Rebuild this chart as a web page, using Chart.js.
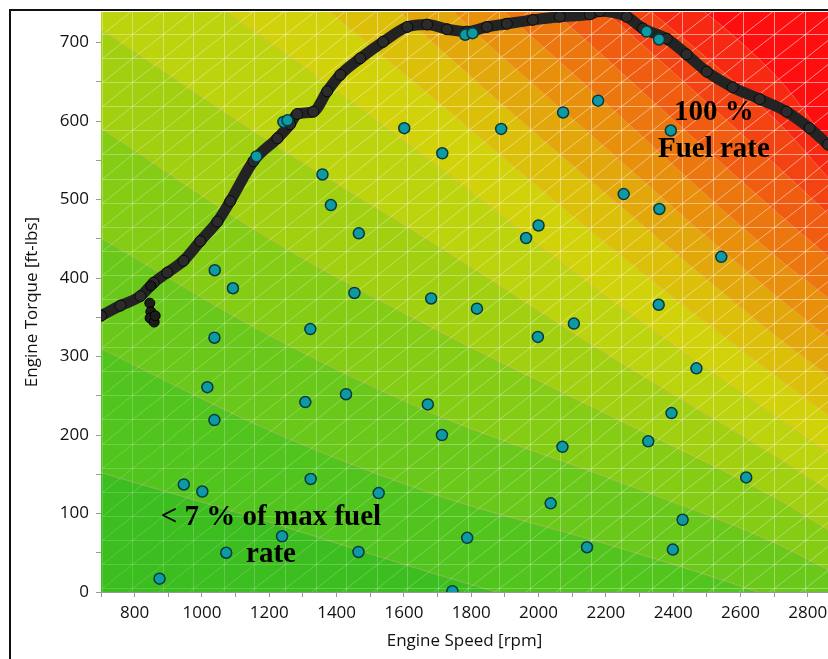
<!DOCTYPE html>
<html>
<head>
<meta charset="utf-8">
<script src="https://cdn.jsdelivr.net/npm/chart.js@4.4.0/dist/chart.umd.min.js"></script>
<style>
  html, body { margin: 0; padding: 0; background: #fff; }
  canvas { display: block; }
</style>
</head>
<body>
<canvas id="fuelMap" width="828" height="659"></canvas>
<script>
// fuel-rate contour boundaries: torque of each level at these speeds
const contourRpm = [700, 1200, 1700, 2210, 2715, 2860];
const level1  = [152, 89, 22, -42, -112, -137];
const level2  = [310, 206, 123, 60, -10, -36];
const level3  = [451, 327, 225, 145, 60, 28];
const level4  = [591, 450, 333, 225, 117, 79];
const level5  = [717, 574, 441, 301, 170, 130];
const level6  = [848, 701, 543, 374, 221, 178];
const level7  = [968, 803, 625, 441, 272, 226];
const level8  = [1083, 898, 695, 504, 323, 276];
const level9  = [1191, 987, 759, 562, 374, 325];
const level10 = [1292, 1070, 822, 619, 424, 375];
const level11 = [1388, 1146, 879, 676, 481, 428];
const level12 = [1476, 1216, 930, 735, 540, 482];
const level13 = [1559, 1280, 981, 785, 597, 528];
const level14 = [1640, 1345, 1035, 835, 653, 572];
const levels = [level1, level2, level3, level4, level5, level6, level7,
  level8, level9, level10, level11, level12, level13, level14];

// band colours, lowest fuel rate first (last one is the 100 % region)
const bandColors = ['#3dbe20', '#51c41d', '#69c819', '#85cc14', '#a1d010',
  '#bcd40d', '#d2d20a', '#dcbf08', '#e2a70a', '#e88f0c', '#ec770e',
  '#f05d10', '#f44312', '#f82912', '#fd0f0f'];

// full-load torque curve
const maxTqRpm = [700, 758, 817, 856, 897, 945, 995, 1046, 1084, 1153, 1224,
  1262, 1283, 1331, 1372, 1411, 1470, 1538, 1610, 1669, 1728, 1788, 1847,
  1906, 1983, 2063, 2152, 2182, 2262, 2310, 2381, 2440, 2500, 2577, 2657,
  2737, 2805, 2860];
const maxTq = [352, 365, 377, 394, 407, 422, 447, 472, 498, 549, 578, 596,
  609, 612, 638, 659, 680, 701, 720, 723, 717, 714, 720, 724, 729, 733, 736,
  740, 733, 718, 705, 685, 663, 643, 628, 612, 591, 570];
// low-speed scatter below the curve
const spurRpm = [848, 845, 848, 846, 858, 861];
const spurTq = [390, 368, 357, 349, 344, 352];

// measured test points
const testRpm = [874, 946, 1001, 1037, 1072, 1238, 1323, 1307, 1465, 1525,
  1671, 1713, 2395, 2326, 2071, 2617, 2036, 2428, 1788, 2144, 2399, 1744,
  1383, 1466, 1038, 1092, 1453, 1322, 1037, 1016, 1428, 1162, 1242, 1254,
  1358, 1601, 1714, 1889, 2073, 2177, 1782, 1804, 2393, 2253, 2359, 2000,
  1963, 2321, 2358, 2543, 2469, 1681, 1817, 1998, 2105, 2357];
const testTq = [17, 137, 128, 219, 50, 71, 144, 242, 51, 126,
  239, 200, 228, 192, 185, 146, 113, 92, 69, 57, 54, 1,
  493, 457, 410, 387, 381, 335, 324, 261, 252, 555, 599, 601,
  532, 591, 559, 590, 611, 626, 710, 712, 588, 507, 488, 467,
  451, 714, 704, 427, 285, 374, 361, 325, 342, 366];

const notes = [
  { rpm: 2521, tq: 602, lines: ['100 %', 'Fuel rate'] },
  { rpm: 1205, tq: 86, lines: ['< 7 % of max fuel', 'rate'] },
];

const pts = (xs, ys) => xs.map((v, i) => ({ x: v, y: ys[i] }));

const bandSets = levels.map((lv, i) => ({
  type: 'line',
  data: pts(contourRpm, lv),
  fill: i === 0 ? 'start' : '-1',
  backgroundColor: bandColors[i],
  borderColor: 'rgba(255,255,255,0.25)',
  borderWidth: 1,
  pointRadius: 0,
  cubicInterpolationMode: 'monotone',
  order: 10,
  clip: 0,
}));

const plotBg = {
  id: 'plotBg',
  beforeDraw(chart) {
    const { ctx, chartArea: a } = chart;
    ctx.save();
    ctx.fillStyle = bandColors[bandColors.length - 1];
    ctx.fillRect(a.left, a.top, a.right - a.left, a.bottom - a.top);
    ctx.restore();
  },
};

// triangulation mesh laid over the colour bands, fainter towards low load
const mesh = {
  id: 'mesh',
  beforeDatasetsDraw(chart) {
    const { ctx, chartArea: a, scales: { x, y } } = chart;
    const r0 = 702, dr = 90.8, t0 = 4.9, dt = 30.7;
    const w = a.right - a.left, h = a.bottom - a.top;
    ctx.save();
    ctx.beginPath();
    ctx.rect(a.left, a.top, w, h);
    ctx.clip();
    ctx.lineWidth = 1;
    for (let r = r0; r < 2900; r += dr) {
      for (let t = t0 - dt; t < 760; t += dt) {
        const x0 = Math.round(x.getPixelForValue(r)) + 0.5;
        const x1 = Math.round(x.getPixelForValue(r + dr)) + 0.5;
        const y0 = Math.round(y.getPixelForValue(t)) + 0.5;
        const y1 = Math.round(y.getPixelForValue(t + dt)) + 0.5;
        const u = ((x0 - a.left) / w + (a.bottom - y0) / h) / 2;
        const alpha = 0.14 + 0.42 * Math.min(1, Math.max(0, u));
        ctx.strokeStyle = `rgba(255,255,255,${alpha.toFixed(3)})`;
        ctx.beginPath();
        ctx.moveTo(x0, y1);
        ctx.lineTo(x0, y0);
        ctx.lineTo(x1, y0);
        ctx.moveTo(x0, y0);
        ctx.lineTo(x1, y1);
        ctx.stroke();
      }
    }
    ctx.restore();
  },
};

const labels = {
  id: 'labels',
  afterDatasetsDraw(chart) {
    const { ctx, scales: { x, y } } = chart;
    ctx.save();
    ctx.font = 'bold 29px "Liberation Serif", "Times New Roman", serif';
    ctx.fillStyle = '#000';
    ctx.textAlign = 'center';
    ctx.textBaseline = 'alphabetic';
    notes.forEach(n => {
      const cx = x.getPixelForValue(n.rpm);
      const by = y.getPixelForValue(n.tq);
      n.lines.forEach((s, i) => ctx.fillText(s, cx, by + i * 37));
    });
    ctx.restore();
  },
  afterDraw(chart) {
    // outer frame
    const { ctx } = chart;
    ctx.save();
    ctx.strokeStyle = '#111';
    ctx.lineWidth = 2;
    ctx.beginPath();
    ctx.moveTo(10, 659);
    ctx.lineTo(10, 10);
    ctx.lineTo(828, 10);
    ctx.stroke();
    ctx.restore();
  },
};

const tickFont = { family: '"Open Sans", sans-serif', size: 17 };
const titleFont = { family: '"Open Sans", sans-serif', size: 17 };

new Chart(document.getElementById('fuelMap'), {
  type: 'scatter',
  data: {
    datasets: [
      ...bandSets,
      {
        type: 'line',
        data: pts(maxTqRpm, maxTq),
        borderColor: '#232323',
        borderWidth: 11,
        borderCapStyle: 'round',
        borderJoinStyle: 'round',
        pointRadius: 5.5,
        pointBackgroundColor: '#2b2b2b',
        pointBorderColor: '#0a0a0a',
        pointBorderWidth: 1,
        cubicInterpolationMode: 'monotone',
        fill: false,
        order: 3,
        clip: 0,
      },
      {
        data: pts(spurRpm, spurTq),
        pointRadius: 5,
        pointBackgroundColor: '#1c1c1c',
        pointBorderColor: '#000',
        pointBorderWidth: 1,
        order: 2,
        clip: 0,
      },
      {
        data: pts(testRpm, testTq),
        pointRadius: 5.5,
        pointBackgroundColor: '#0d9aa4',
        pointBorderColor: '#073a3e',
        pointBorderWidth: 1.5,
        order: 1,
        clip: 0,
      },
    ],
  },
  options: {
    responsive: false,
    animation: false,
    events: [],
    layout: { autoPadding: false, padding: { left: 0, top: 12, right: 0, bottom: 0 } },
    plugins: {
      legend: { display: false },
      tooltip: { enabled: false },
      filler: { drawTime: 'beforeDatasetsDraw' },
    },
    scales: {
      x: {
        type: 'linear',
        min: 700,
        max: 2860,
        afterFit: s => { s.height = 67; s.paddingLeft = 0; s.paddingRight = 0; },
        border: { display: true, color: '#9a9a9a', width: 1 },
        grid: { drawOnChartArea: false, drawTicks: true, tickLength: 5, tickColor: '#9a9a9a' },
        ticks: {
          stepSize: 100,
          autoSkip: false,
          maxRotation: 0,
          includeBounds: false,
          padding: 6,
          color: '#111',
          font: tickFont,
          callback: v => (v % 200 === 0 ? v : ''),
        },
        title: {
          display: true,
          text: 'Engine Speed [rpm]',
          color: '#111',
          font: titleFont,
          padding: { top: 0, bottom: 8 },
        },
      },
      y: {
        type: 'linear',
        min: 0,
        max: 739,
        afterFit: s => { s.width = 101; s.paddingTop = 0; s.paddingBottom = 0; },
        border: { display: true, color: '#9a9a9a', width: 1 },
        grid: { drawOnChartArea: false, drawTicks: true, tickLength: 5, tickColor: '#9a9a9a' },
        ticks: {
          stepSize: 50,
          autoSkip: false,
          includeBounds: false,
          padding: 7,
          color: '#111',
          font: tickFont,
          callback: v => (v % 100 === 0 ? v : ''),
        },
        title: {
          display: true,
          text: 'Engine Torque [ft-lbs]',
          color: '#111',
          font: titleFont,
          padding: { top: 22, bottom: 0 },
        },
      },
    },
  },
  plugins: [plotBg, mesh, labels],
});
</script>
</body>
</html>
